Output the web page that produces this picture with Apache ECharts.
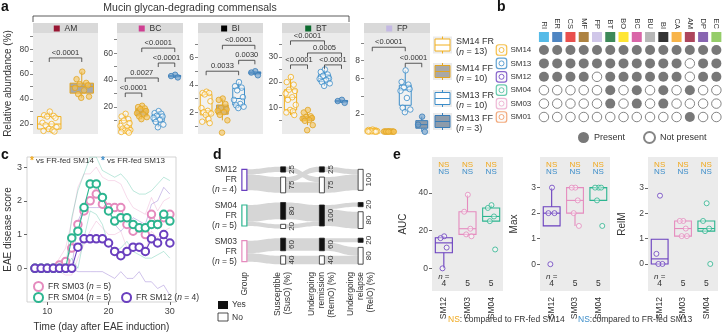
<!DOCTYPE html>
<html>
<head>
<meta charset="utf-8">
<script src="https://cdn.jsdelivr.net/npm/echarts@6.0.0/dist/echarts.min.js"></script>
<style>
  html, body { margin: 0; padding: 0; background: #fff; }
  #main { width: 723px; height: 333px; }
</style>
</head>
<body>
<div id="main"></div>
<script>
const FONT = '"Liberation Sans", Arial, sans-serif';
const TXT = '#333';

// ---------- a: relative abundance (%) ----------
const taxaA = ['AM', 'BC', 'BI', 'BT', 'FP'];
const groupsA = ['SM14 FR', 'SM14 FF', 'SM13 FR', 'SM13 FF'];
const groupsAN = [13, 10, 10, 3];

const AM_sm14FR = [30, 27, 26.5, 26, 25, 21, 20, 19, 17.5, 16, 15, 14.5, 14];
const AM_sm14FF = [62, 56, 53, 52, 51, 49, 47, 44, 42, 41];
const BC_sm14FR = [15, 13, 11, 10, 8, 6, 5, 4, 3, 2.5, 2, 1.5, 1];
const BC_sm14FF = [21, 20, 19, 18.5, 17, 15.5, 14.5, 13, 12.5, 11];
const BC_sm13FR = [17, 15.5, 15, 13.5, 13, 12, 10.5, 9, 7, 5];
const BC_sm13FF = [44, 43, 42];
const BI_sm14FR = [3.5, 3.4, 3.4, 3.3, 2.8, 2.3, 2.1, 2.0, 1.9, 1.8, 1.5, 1.3, 1.2];
const BI_sm14FF = [3.0, 2.9, 2.6, 2.3, 2.2, 2.1, 2.0, 1.8, 1.4, 0.5];
const BI_sm13FR = [4.2, 3.9, 3.8, 3.6, 3.1, 2.9, 2.6, 2.5, 2.4, 2.3];
const BI_sm13FF = [5.0, 4.9, 4.7];
const BT_sm14FR = [22, 20, 19, 17, 16.5, 15.5, 14, 13, 11, 9, 8.5, 8, 7];
const BT_sm14FF = [9, 8, 6.5, 6.2, 5.8, 5.6, 5, 4.7, 3, 1];
const BT_sm13FR = [25, 24, 23, 22.5, 21.5, 21.3, 20.8, 20, 19.5, 18.5];
const BT_sm13FF = [13, 12.5, 11.8];
const FP_sm14FR = [0.25, 0.2, 0.15, 0.15, 0.1, 0.1, 0.1, 0.05, 0.05, 0.05, 0.02, 0.02, 0.01];
const FP_sm14FF = [0.05, 0.04, 0.03, 0.03, 0.02, 0.02, 0.02, 0.01, 0.01, 0.01];
const FP_sm13FR = [6.9, 5.6, 5.3, 5.0, 4.8, 4.6, 3.8, 2.7, 2.5, 2.2];
const FP_sm13FF = [1.7, 0.8, 0.0];

// y ticks / labels per taxon
const ticksA = [[20, 30, 40, 50, 60, 70, 80, 90], [10, 20, 30, 40, 50, 60, 70], [1, 2, 3, 4, 5, 6, 7], [5, 10, 15, 20, 25, 30, 35], [2, 4, 6, 8, 10]];
const labelsA = [[20, 40, 60, 80], [20, 40, 60], [2, 4, 6], [10, 20, 30], [2, 6, 8]];

// p-value brackets: [from group, to group, height, text]
const bracketsAM = [[0, 1, 73, '<0.0001']];
const bracketsBC = [[0, 1, 30.4, '<0.0001'], [0, 2, 41.6, '0.0027'], [2, 3, 52.7, '<0.0001'], [1, 3, 63.8, '<0.0001']];
const bracketsBI = [[0, 2, 5.0, '0.0033'], [2, 3, 5.8, '0.0030'], [1, 3, 6.9, '<0.0001']];
const bracketsBT = [[0, 1, 26.8, '<0.0001'], [2, 3, 26.8, '<0.0001'], [1, 3, 31.5, '0.0005'], [0, 2, 36.3, '<0.0001']];
const bracketsFP = [[0, 2, 9.5, '<0.0001'], [2, 3, 7.7, '<0.0001']];

// ---------- b: community composition ----------
const taxaB = ['RI', 'ER', 'CS', 'MF', 'FP', 'BT', 'BO', 'BC', 'BU', 'BI', 'CA', 'AM', 'DP', 'EC'];
const taxaBColor = ['#2AAAE2', '#2266B3', '#E42320', '#9A6412', '#C4B9E3', '#0C6B2F', '#FFE000', '#CF3F92', '#A5A5A5', '#000000', '#F6A11B', '#991733', '#6A3E9E', '#7BC043'];
const communities = ['SM14', 'SM13', 'SM12', 'SM04', 'SM03', 'SM01'];
const communityColor = ['#F2B01E', '#3C8DC9', '#6A3FBF', '#43BE9A', '#EBA6CC', '#F0955C'];
const presence = [
  [1, 1, 1, 1, 1, 1, 1, 1, 1, 1, 1, 1, 1, 1],
  [1, 1, 1, 1, 1, 1, 1, 1, 1, 1, 1, 0, 1, 1],
  [1, 1, 1, 1, 0, 1, 1, 1, 1, 1, 1, 0, 1, 1],
  [0, 0, 0, 0, 0, 1, 0, 1, 0, 1, 0, 1, 0, 0],
  [0, 0, 0, 0, 0, 1, 0, 1, 0, 1, 0, 0, 0, 0],
  [0, 0, 0, 0, 0, 0, 0, 0, 0, 0, 0, 1, 0, 0]
];

// ---------- c: EAE disease score ----------
const days = [8, 9, 10, 11, 12, 13, 14, 15, 16, 17, 18, 19, 20, 21, 22, 23, 24, 25, 26, 27, 28, 29, 30];
const sm03Mean = [0, 0, 0, 0, 0.1, 0.2, 0.6, 1.3, 1.7, 2.0, 2.2, 1.9, 1.8, 1.8, 1.8, 1.3, 1.1, 1.2, 1.0, 1.6, 1.3, 1.5, 1.6];
const sm03Hi = [0, 0, 0, 0, 0.3, 0.6, 1.4, 2.4, 2.8, 2.8, 3.0, 2.7, 2.6, 2.6, 2.5, 2.1, 1.8, 1.7, 1.6, 2.1, 1.7, 2.0, 2.1];
const sm03Lo = [0, 0, 0, 0, -0.1, -0.2, -0.2, 0.3, 0.7, 1.1, 1.4, 1.2, 1.0, 1.0, 1.1, 0.6, 0.5, 0.7, 0.5, 1.1, 0.9, 1.1, 1.2];
const sm04Mean = [0, 0, 0, 0, 0, 0, 0.9, 1.1, 1.8, 2.5, 2.5, 2.1, 1.7, 1.4, 1.5, 1.5, 1.3, 1.2, 1.2, 1.3, 1.3, 1.6, 1.4];
const sm04Hi = [0, 0, 0, 0, 0, 0, 1.5, 2.3, 2.8, 3.3, 3.3, 2.9, 2.8, 2.7, 2.8, 2.6, 2.3, 2.2, 2.2, 2.3, 2.5, 2.7, 2.6];
const sm04Lo = [0, 0, 0, 0, 0, 0, 0.3, 0, 0.9, 1.7, 1.6, 1.3, 0.7, 0.5, 0.6, 0.8, 0.5, 0.4, 0.3, 0.3, 0.4, 0.5, 0.3];
const sm12Mean = [0, 0, 0, 0, 0, 0, 0, 0.625, 0.875, 0.875, 0.875, 0.875, 0.75, 0.5, 0.375, 0.5, 0.625, 0.625, 0.5, 0.875, 0.75, 1.0, 0.75];
const sm12Hi = [0, 0, 0, 0, 0, 0, 0, 1.4, 1.8, 1.8, 1.8, 1.8, 1.7, 1.3, 1.1, 1.3, 1.5, 1.4, 1.3, 1.9, 2.0, 2.4, 2.2];
const sm12Lo = [0, 0, 0, 0, 0, 0, 0, -0.1, -0.1, -0.1, -0.1, -0.1, -0.2, -0.3, -0.1, -0.3, -0.3, -0.1, -0.4, -0.4, -0.6, -0.5, -0.8];
// days marked significant
const starVs13SM03 = [14, 27, 29, 30];
const starVs13SM04 = [14, 16, 17, 28, 29];
const starVs14SM12 = [14];

// ---------- d: disease course (%) ----------
const groupsD = ['SM12', 'SM04', 'SM03'];
const nD = [4, 5, 5];
const susYes = [25, 80, 60];
const remYes = [25, 100, 60];
const relYes = [0, 20, 20];
// [from yes?, to yes?, %]
const flowsSusRem = [[[1, 0, 25], [0, 1, 25], [0, 0, 50]], [[1, 1, 80], [0, 1, 20]], [[1, 1, 60], [0, 0, 40]]];
const flowsRemRel = [[[1, 0, 25], [0, 0, 75]], [[1, 1, 20], [1, 0, 80]], [[1, 1, 20], [1, 0, 40], [0, 0, 40]]];
const stagesD = ['Group', 'Susceptible\n(SusO) (%)', 'Undergoing\nremission\n(RemO) (%)', 'Undergoing\nrelapse\n(RelO) (%)'];

// ---------- e: AUC / Max / RelM ----------
const groupsE = ['SM12', 'SM03', 'SM04'];
const nE = [4, 5, 5];
const aucSM12 = [17, 16, 11, 0];
const aucSM03 = [39, 30, 21, 18, 17];
const aucSM04 = [33.5, 32, 27.5, 25, 10];
const maxSM12 = [3, 2, 2, 0];
const maxSM03 = [3, 3, 2.5, 2, 1.5];
const maxSM04 = [3, 3, 3, 2.5, 1.5];
const relmSM12 = [2.7, 0.4, 0, 0];
const relmSM03 = [1.7, 1.7, 1.4, 1.1, 1.1];
const relmSM04 = [2.4, 1.7, 1.4, 1.3, 0];
const metricsE = ['AUC', 'Max', 'RelM'];
const labelsE = [[0, 20, 40], [0, 1, 2, 3], [0, 1, 2, 3]];

// ================= build =================
const colA = ['#F2B01E', '#E1A523', '#3C8DC9', '#3A7DB8'];
const boxFillA = ['rgba(255,255,255,0.35)', '#A8A8A8', 'rgba(255,255,255,0.35)', '#8D9BAA'];
const ptFillA = ['rgba(255,255,255,0.6)', 'rgba(246,196,90,0.75)', 'rgba(255,255,255,0.6)', 'rgba(110,160,205,0.8)'];
const colC = ['#E58BBE', '#2DB590', '#6A3FBF'];
const colE = ['#6A3FBF', '#E58BBE', '#2DB590'];
const ORANGE = '#F0A81C', BLUE = '#3C8DC9';
const JIT = [0.02, -0.2, 0.17, -0.08, 0.24, -0.26, 0.09, -0.14, 0.28, -0.02, 0.13, -0.22, 0.2];
const NO_LINE = { show: false, onZero: false };

const chart = echarts.init(document.getElementById('main'));
const grid = [], xAxis = [], yAxis = [], series = [], elements = [];

function boxStats(vals) {
  const s = vals.slice().sort((a, b) => a - b);
  const q = p => {
    const h = (s.length - 1) * p, lo = Math.floor(h);
    const nx = s[Math.min(lo + 1, s.length - 1)];
    return s[lo] + (h - lo) * (nx - s[lo]);
  };
  const q1 = q(0.25), md = q(0.5), q3 = q(0.75), iqr = q3 - q1;
  let lo = s.find(v => v >= q1 - 1.5 * iqr);
  let hi = s.slice().reverse().find(v => v <= q3 + 1.5 * iqr);
  return [Math.min(lo, q1), q1, md, q3, Math.max(hi, q3)];
}

function drawBox(api, stroke, fill, wFrac, lw) {
  const x = api.value(0);
  const c = d => api.coord([x, api.value(d)]);
  const lo = c(1), q1 = c(2), md = c(3), q3 = c(4), hi = c(5);
  const w = api.size([wFrac, 0])[0];
  const ls = { stroke: stroke, lineWidth: lw };
  return {
    type: 'group', children: [
      { type: 'line', shape: { x1: lo[0], y1: lo[1], x2: q1[0], y2: q1[1] }, style: ls },
      { type: 'line', shape: { x1: q3[0], y1: q3[1], x2: hi[0], y2: hi[1] }, style: ls },
      { type: 'rect', shape: { x: q3[0] - w / 2, y: q3[1], width: w, height: Math.max(q1[1] - q3[1], 1) }, style: { fill: fill, stroke: stroke, lineWidth: lw } },
      { type: 'line', shape: { x1: md[0] - w / 2, y1: md[1], x2: md[0] + w / 2, y2: md[1] }, style: ls }
    ]
  };
}

function txt(x, y, text, o) {
  elements.push(Object.assign({ type: 'text', x: x, y: y, silent: true,
    style: Object.assign({ text: text, fill: TXT, fontSize: 9, fontFamily: FONT }, o || {}) }));
}

// panel letters
[['a', 1, 0], ['b', 497, 0], ['c', 1, 148], ['d', 213, 148], ['e', 393, 148]].forEach(p =>
  txt(p[1], p[2], p[0], { fontSize: 14, fontWeight: 'bold', fill: '#111' }));

// ---------- panel a ----------
const dataA = [[AM_sm14FR, AM_sm14FF], [BC_sm14FR, BC_sm14FF, BC_sm13FR, BC_sm13FF],
  [BI_sm14FR, BI_sm14FF, BI_sm13FR, BI_sm13FF], [BT_sm14FR, BT_sm14FF, BT_sm13FR, BT_sm13FF],
  [FP_sm14FR, FP_sm14FF, FP_sm13FR, FP_sm13FF]];
const bracketsA = [bracketsAM, bracketsBC, bracketsBI, bracketsBT, bracketsFP];
const rangeA = [[12, 93], [0, 75], [0.4, 7.8], [-0.5, 39.4], [-0.25, 11.1]];
const gridA = [[33, 65], [117, 66], [198, 65], [282, 68], [364, 66]];

txt(190, 8, 'Mucin glycan-degrading commensals', { fontSize: 10.5, align: 'center', verticalAlign: 'middle' });
elements.push({ type: 'polyline', silent: true, shape: { points: [[33, 22], [33, 16], [349, 16], [349, 22]] }, style: { stroke: '#333', lineWidth: 0.8, fill: null } });

taxaA.forEach((t, k) => {
  const gi = grid.length;
  const L = gridA[k][0], W = gridA[k][1];
  grid.push({ left: L, top: 33, width: W, height: 101, show: true, backgroundColor: '#ebebeb', borderWidth: 0 });
  const nSlot = dataA[k].length;
  xAxis.push({ gridIndex: gi, type: 'value', min: -0.5, max: nSlot - 0.5, show: false, axisLine: NO_LINE });
  yAxis.push({
    gridIndex: gi, type: 'value', min: rangeA[k][0], max: rangeA[k][1],
    splitLine: { show: false }, axisLine: NO_LINE,
    axisTick: { show: true, length: 3, customValues: ticksA[k], lineStyle: { color: '#666', width: 0.8 } },
    axisLabel: { customValues: labelsA[k], fontSize: 8.5, color: '#444', margin: 4, fontFamily: FONT },
    name: k === 0 ? 'Relative abundance (%)' : '', nameLocation: 'middle', nameGap: 20,
    nameTextStyle: { fontSize: 10, color: TXT, fontFamily: FONT }
  });
  // strip header
  elements.push({ type: 'rect', silent: true, shape: { x: L, y: 23, width: W, height: 10 }, style: { fill: '#d9d9d9' } });
  txt(L + W / 2, 28.5, '{s|}  ' + t, { fontSize: 8.5, align: 'center', verticalAlign: 'middle',
    rich: { s: { backgroundColor: taxaBColor[taxaB.indexOf(t)], width: 6, height: 6 } } });

  const slotGroup = nSlot === 2 ? [0, 1] : [0, 1, 2, 3];
  series.push({
    type: 'custom', xAxisIndex: gi, yAxisIndex: gi, z: 2, silent: true, clip: false,
    data: dataA[k].map((vals, s) => [s].concat(boxStats(vals))),
    encode: { x: 0, y: [1, 5] },
    renderItem: (params, api) => {
      const g = slotGroup[params.dataIndex];
      return drawBox(api, colA[g], boxFillA[g], 0.72, 1);
    }
  });
  dataA[k].forEach((vals, s) => {
    const g = slotGroup[s];
    series.push({
      type: 'scatter', xAxisIndex: gi, yAxisIndex: gi, z: 3, silent: true, symbolSize: 5.5,
      itemStyle: { color: ptFillA[g], borderColor: colA[g], borderWidth: 1 },
      data: vals.map((v, i) => [s + JIT[i % JIT.length] * (nSlot === 2 ? 0.8 : 1.1), v])
    });
  });
  const br = bracketsA[k];
  series.push({
    type: 'custom', xAxisIndex: gi, yAxisIndex: gi, z: 4, silent: true, clip: false,
    data: br.map(b => [b[0], b[1], b[2]]),
    encode: { x: [0, 1], y: 2 },
    renderItem: (params, api) => {
      const a = api.coord([api.value(0), api.value(2)]), b = api.coord([api.value(1), api.value(2)]);
      return {
        type: 'group', children: [
          { type: 'polyline', shape: { points: [[a[0], a[1] + 4], [a[0], a[1]], [b[0], b[1]], [b[0], b[1] + 4]] }, style: { stroke: '#333', lineWidth: 0.8, fill: null } },
          { type: 'text', x: (a[0] + b[0]) / 2, y: a[1] - 1, style: { text: br[params.dataIndex][3], fill: TXT, fontSize: 7.5, fontFamily: FONT, align: 'center', verticalAlign: 'bottom' } }
        ]
      };
    }
  });
});

// legend a
const legAY = [45, 71.5, 98.5, 121.5];
groupsA.forEach((g, i) => {
  const cy = legAY[i];
  elements.push({ type: 'rect', silent: true, shape: { x: 433, y: cy - 8.5, width: 19, height: 17 }, style: { fill: '#ebebeb' } });
  elements.push({ type: 'line', silent: true, shape: { x1: 442.5, y1: cy - 8.5, x2: 442.5, y2: cy + 8.5 }, style: { stroke: colA[i], lineWidth: 1 } });
  elements.push({ type: 'rect', silent: true, shape: { x: 435, y: cy - 6, width: 15, height: 12 }, style: { fill: i % 2 ? boxFillA[i] : '#fff', stroke: colA[i], lineWidth: 1 } });
  elements.push({ type: 'line', silent: true, shape: { x1: 435, y1: cy, x2: 450, y2: cy }, style: { stroke: colA[i], lineWidth: 1 } });
  txt(456, cy - 3, g, { fontSize: 9, verticalAlign: 'middle' });
  txt(456, cy + 7, '({i|n} = ' + groupsAN[i] + ')', { fontSize: 9, verticalAlign: 'middle',
    rich: { i: { fontStyle: 'italic', fontSize: 9, fontFamily: FONT, fill: TXT } } });
});

// ---------- panel b ----------
const bLeft = 537.3, bW = 189;
let gi = grid.length;
grid.push({ left: bLeft, top: 32, width: bW, height: 10 });
xAxis.push({ gridIndex: gi, type: 'category', data: taxaB, position: 'top', axisLine: { show: false }, axisTick: { show: false },
  axisLabel: { rotate: 90, fontSize: 7.5, margin: 3, color: TXT, fontFamily: FONT, interval: 0 } });
yAxis.push({ gridIndex: gi, type: 'category', data: ['key'], show: false });
series.push({ type: 'scatter', xAxisIndex: gi, yAxisIndex: gi, silent: true, symbol: 'rect', symbolSize: [10, 10],
  data: taxaB.map((t, i) => ({ value: [i, 0], itemStyle: { color: taxaBColor[i] } })) });

gi = grid.length;
grid.push({ left: bLeft, top: 43.3, width: bW, height: 80.4 });
xAxis.push({ gridIndex: gi, type: 'category', data: taxaB, show: false });
yAxis.push({ gridIndex: gi, type: 'category', data: communities, inverse: true, axisLine: { show: false }, axisTick: { show: false },
  axisLabel: { fontSize: 8, margin: 6, color: TXT, fontFamily: FONT } });
const presentPts = [], absentPts = [];
presence.forEach((row, j) => row.forEach((p, i) => (p ? presentPts : absentPts).push([i, j])));
series.push({ name: 'Present', type: 'scatter', xAxisIndex: gi, yAxisIndex: gi, silent: true, symbolSize: 10,
  itemStyle: { color: '#565656' }, data: presentPts });
series.push({ name: 'Not present', type: 'scatter', xAxisIndex: gi, yAxisIndex: gi, silent: true, symbolSize: 9.5,
  itemStyle: { color: '#fff', borderColor: '#666', borderWidth: 1 }, data: absentPts });

gi = grid.length;
grid.push({ left: 496, top: 43.3, width: 11, height: 80.4 });
xAxis.push({ gridIndex: gi, type: 'category', data: ['icon'], show: false });
yAxis.push({ gridIndex: gi, type: 'category', data: communities, inverse: true, show: false });
series.push({ type: 'scatter', xAxisIndex: gi, yAxisIndex: gi, silent: true, symbol: 'roundRect', symbolSize: 10.5,
  data: communities.map((c, j) => ({ value: [0, j], itemStyle: { color: '#fafafa', borderColor: communityColor[j], borderWidth: 1.2 } })) });
series.push({ type: 'scatter', xAxisIndex: gi, yAxisIndex: gi, silent: true, symbolSize: 5,
  data: communities.map((c, j) => ({ value: [0, j], itemStyle: { color: '#fff', borderColor: communityColor[j], borderWidth: 1 } })) });

// ---------- panel c ----------
gi = grid.length;
const gC = gi;
grid.push({ left: 27, top: 157, width: 149, height: 145, show: true, borderColor: '#c8c8c8', borderWidth: 0.8 });
xAxis.push({ gridIndex: gi, type: 'value', min: 6.7, max: 31, splitLine: { show: false }, axisLine: NO_LINE,
  axisTick: { show: true, length: 3, customValues: [10, 20, 30], lineStyle: { color: '#666' } },
  axisLabel: { customValues: [10, 20, 30], fontSize: 9, color: '#444', margin: 5, fontFamily: FONT },
  name: 'Time (day after EAE induction)', nameLocation: 'middle', nameGap: 20, nameTextStyle: { fontSize: 10, color: TXT, fontFamily: FONT } });
yAxis.push({ gridIndex: gi, type: 'value', min: -1, max: 3.3, splitLine: { show: false }, axisLine: NO_LINE,
  axisTick: { show: true, length: 3, customValues: [0, 1, 2, 3], lineStyle: { color: '#666' } },
  axisLabel: { customValues: [0, 1, 2, 3], fontSize: 9, color: '#444', margin: 5, fontFamily: FONT },
  name: 'EAE disease score', nameLocation: 'middle', nameGap: 14, nameTextStyle: { fontSize: 10, color: TXT, fontFamily: FONT } });

const pair = arr => days.map((d, i) => [d, arr[i]]);
const groupsC = [['FR SM03', sm03Mean, sm03Hi, sm03Lo], ['FR SM04', sm04Mean, sm04Hi, sm04Lo], ['FR SM12', sm12Mean, sm12Hi, sm12Lo]];
groupsC.forEach((g, k) => {
  [g[2], g[3]].forEach((arr, h) => series.push({
    name: g[0] + (h ? ' lo' : ' hi'), type: 'line', xAxisIndex: gC, yAxisIndex: gC, silent: true, symbol: 'none', z: 1,
    lineStyle: { color: colC[k], width: 0.7, opacity: 0.45 }, data: pair(arr)
  }));
});
[1, 0, 2].forEach(k => {
  const g = groupsC[k];
  series.push({
    name: g[0], type: 'line', xAxisIndex: gC, yAxisIndex: gC, silent: true, z: 3 + k,
    symbol: 'emptyCircle', symbolSize: 7.5,
    lineStyle: { color: colC[k], width: 1.1 },
    itemStyle: { color: colC[k], borderWidth: 1.1 },
    data: pair(g[1])
  });
});
const starSeries = (list, arr, color) => ({
  type: 'scatter', xAxisIndex: gC, yAxisIndex: gC, silent: true, z: 10, symbolSize: 1, itemStyle: { opacity: 0 },
  label: { show: true, formatter: '*', position: 'inside', color: color, fontSize: 10, fontWeight: 'bold', offset: [0, 2.5] },
  data: list.map(d => [d, arr[days.indexOf(d)]])
});
series.push(starSeries(starVs13SM03, sm03Mean, BLUE));
series.push(starSeries(starVs13SM04, sm04Mean, BLUE));
series.push(starSeries(starVs14SM12, sm12Mean, ORANGE));
txt(30, 161, '{o|*} vs FR-fed SM14', { fontSize: 8, verticalAlign: 'middle', rich: { o: { fill: ORANGE, fontSize: 10, fontWeight: 'bold' } } });
txt(101, 161, '{b|*} vs FR-fed SM13', { fontSize: 8, verticalAlign: 'middle', rich: { b: { fill: BLUE, fontSize: 10, fontWeight: 'bold' } } });

// ---------- panel d ----------
gi = grid.length;
const gD = gi;
grid.push({ left: 225, top: 162, width: 155, height: 107 });
xAxis.push({ gridIndex: gi, type: 'category', data: stagesD, axisLine: { show: false }, axisTick: { show: false },
  axisLabel: { rotate: 90, interval: 0, fontSize: 8.5, lineHeight: 10, margin: 3, color: TXT, fontFamily: FONT } });
yAxis.push({ gridIndex: gi, type: 'value', min: 0, max: 510, inverse: true, show: false, axisLine: NO_LINE });
const colD = ['#6A3FBF', '#2DB590', '#E58BBE'];
const NW = 5, GAP = 24, BAND = 170;
const rank = k => (k === 'no' ? 1 : 0);
series.push({
  type: 'custom', xAxisIndex: gD, yAxisIndex: gD, silent: true, clip: false,
  data: groupsD.map((g, i) => [0, i * BAND + BAND / 2]),
  renderItem: (params, api) => {
    const i = params.dataIndex;
    const cv = i * BAND + BAND / 2;
    const X = s => api.coord([s, cv])[0];
    const Y = v => api.coord([0, v])[1];
    const split = yes => {
      if (yes <= 0) return { no: [cv - 50, cv + 50] };
      if (yes >= 100) return { yes: [cv - 50, cv + 50] };
      const top = cv - (100 + GAP) / 2;
      return { yes: [top, top + yes], no: [top + yes + GAP, top + 100 + GAP] };
    };
    const stages = [{ grp: [cv - 50, cv + 50] }, split(susYes[i]), split(remYes[i]), split(relYes[i])];
    const yn = b => (b ? 'yes' : 'no');
    const flows = [
      [['grp', 'yes', susYes[i]], ['grp', 'no', 100 - susYes[i]]],
      flowsSusRem[i].map(f => [yn(f[0]), yn(f[1]), f[2]]),
      flowsRemRel[i].map(f => [yn(f[0]), yn(f[1]), f[2]])
    ];
    const kids = [];
    flows.forEach((list, s) => {
      const so = {}, ti = {}, outPos = new Map(), inPos = new Map();
      list.slice().sort((a, b) => rank(a[0]) - rank(b[0]) || rank(a[1]) - rank(b[1]))
        .forEach(f => { so[f[0]] = so[f[0]] || 0; outPos.set(f, so[f[0]]); so[f[0]] += f[2]; });
      list.slice().sort((a, b) => rank(a[1]) - rank(b[1]) || rank(a[0]) - rank(b[0]))
        .forEach(f => { ti[f[1]] = ti[f[1]] || 0; inPos.set(f, ti[f[1]]); ti[f[1]] += f[2]; });
      list.forEach(f => {
        if (f[2] <= 0) return;
        const src = stages[s][f[0]], dst = stages[s + 1][f[1]];
        const sy0 = Y(src[0] + outPos.get(f)), sy1 = Y(src[0] + outPos.get(f) + f[2]);
        const ty0 = Y(dst[0] + inPos.get(f)), ty1 = Y(dst[0] + inPos.get(f) + f[2]);
        const sx = X(s) + NW / 2, tx = X(s + 1) - NW / 2, mx = (sx + tx) / 2;
        kids.push({ type: 'path', shape: { pathData: `M${sx} ${sy0}C${mx} ${sy0} ${mx} ${ty0} ${tx} ${ty0}L${tx} ${ty1}C${mx} ${ty1} ${mx} ${sy1} ${sx} ${sy1}Z` },
          style: { fill: '#d6d6d6' } });
      });
    });
    stages.forEach((st, s) => {
      Object.keys(st).forEach(k => {
        const r = st[k], x = X(s), y0 = Y(r[0]), y1 = Y(r[1]);
        kids.push({ type: 'rect', shape: { x: x - NW / 2, y: y0, width: NW, height: y1 - y0 },
          style: { fill: k === 'yes' ? '#111' : '#fff', stroke: k === 'grp' ? colD[i] : '#222', lineWidth: k === 'grp' ? 1.2 : 0.8 } });
        if (k !== 'grp') {
          kids.push({ type: 'text', x: x + NW / 2 + 6, y: (y0 + y1) / 2, rotation: Math.PI / 2,
            style: { text: String(Math.round(r[1] - r[0])), fill: TXT, fontSize: 8, fontFamily: FONT, align: 'center', verticalAlign: 'middle' } });
        }
      });
    });
    kids.push({ type: 'text', x: X(0) - NW / 2 - 5, y: Y(cv),
      style: { text: groupsD[i] + '\nFR\n({i|n} = ' + nD[i] + ')', fill: TXT, fontSize: 8.5, lineHeight: 10, fontFamily: FONT,
        align: 'right', verticalAlign: 'middle', rich: { i: { fontStyle: 'italic', fontSize: 8.5, fontFamily: FONT, fill: TXT } } } });
    return { type: 'group', children: kids };
  }
});
elements.push({ type: 'rect', silent: true, shape: { x: 218, y: 301, width: 10, height: 8 }, style: { fill: '#111' } });
elements.push({ type: 'rect', silent: true, shape: { x: 218, y: 313, width: 10, height: 8 }, style: { fill: '#fff', stroke: '#222', lineWidth: 0.8 } });
txt(232, 305, 'Yes', { fontSize: 8.5, verticalAlign: 'middle' });
txt(232, 317.5, 'No', { fontSize: 8.5, verticalAlign: 'middle' });

// ---------- panel e ----------
const dataE = [[aucSM12, aucSM03, aucSM04], [maxSM12, maxSM03, maxSM04], [relmSM12, relmSM03, relmSM04]];
const rangeE = [[-12, 59], [-1.05, 4.2], [-1.07, 4.23]];
const gridE = [[432, 71, 24], [540, 70, 21], [648, 70, 21]];
metricsE.forEach((m, k) => {
  const g = grid.length;
  grid.push({ left: gridE[k][0], top: 157, width: gridE[k][1], height: 134, show: true, backgroundColor: '#ebebeb', borderWidth: 0 });
  xAxis.push({ gridIndex: g, type: 'value', min: -0.5, max: 2.5, splitLine: { show: false }, axisLine: NO_LINE, axisTick: { show: false },
    axisLabel: { customValues: [0, 1, 2], formatter: v => groupsE[v], rotate: 90, fontSize: 8.5, margin: 6, color: TXT, fontFamily: FONT } });
  yAxis.push({ gridIndex: g, type: 'value', min: rangeE[k][0], max: rangeE[k][1], splitLine: { show: false }, axisLine: NO_LINE,
    axisTick: { show: true, length: 3, customValues: labelsE[k], lineStyle: { color: '#666' } },
    axisLabel: { customValues: labelsE[k], fontSize: 8.5, color: '#444', margin: 4, fontFamily: FONT },
    name: m, nameLocation: 'middle', nameGap: gridE[k][2], nameTextStyle: { fontSize: 10, color: TXT, fontFamily: FONT } });
  series.push({
    type: 'custom', xAxisIndex: g, yAxisIndex: g, z: 2, silent: true, clip: false,
    data: dataE[k].map((vals, s) => [s].concat(boxStats(vals))),
    encode: { x: 0, y: [1, 5] },
    renderItem: (params, api) => drawBox(api, colE[params.dataIndex], 'rgba(0,0,0,0)', 0.72, 1.1)
  });
  dataE[k].forEach((vals, s) => series.push({
    type: 'scatter', xAxisIndex: g, yAxisIndex: g, z: 3, silent: true, symbolSize: 5,
    itemStyle: { color: 'rgba(255,255,255,0.5)', borderColor: colE[s], borderWidth: 1 },
    data: vals.map((v, i) => [s + JIT[i % JIT.length] * 0.7, v])
  }));
  series.push({
    type: 'custom', xAxisIndex: g, yAxisIndex: g, z: 4, silent: true, clip: false,
    data: groupsE.map((n, s) => [s, 0]),
    renderItem: (params, api) => {
      const s = params.dataIndex, cs = params.coordSys;
      const x = api.coord([s, 0])[0];
      const base = { fontSize: 8, fontFamily: FONT, align: 'center', verticalAlign: 'middle' };
      const kids = [
        { type: 'text', x: x, y: cs.y + 8, style: Object.assign({ text: 'NS', fill: ORANGE }, base) },
        { type: 'text', x: x, y: cs.y + 15, style: Object.assign({ text: 'NS', fill: BLUE }, base) },
        { type: 'text', x: x, y: cs.y + cs.height - 7, style: Object.assign({ text: String(nE[s]), fill: TXT }, base, { fontSize: 8.5 }) }
      ];
      if (s === 0) kids.push({ type: 'text', x: x, y: cs.y + cs.height - 14,
        style: Object.assign({ text: '{i|n} =', fill: TXT, rich: { i: { fontStyle: 'italic', fontSize: 8, fontFamily: FONT, fill: TXT } } }, base) });
      return { type: 'group', children: kids };
    }
  });
});
txt(448, 320, '{o|NS}: compared to FR-fed SM14', { fontSize: 8.5, verticalAlign: 'middle', rich: { o: { fill: ORANGE, fontSize: 8.5, fontFamily: FONT } } });
txt(578, 320, '{b|NS}:compared to FR-fed SM13', { fontSize: 8.5, verticalAlign: 'middle', rich: { b: { fill: BLUE, fontSize: 8.5, fontFamily: FONT } } });

chart.setOption({
  animation: false,
  textStyle: { fontFamily: FONT },
  grid: grid,
  xAxis: xAxis,
  yAxis: yAxis,
  legend: [
    { data: ['Present', 'Not present'], left: 573, top: 126, itemWidth: 11, itemHeight: 11, itemGap: 18, icon: 'circle',
      textStyle: { fontSize: 9, color: TXT, fontFamily: FONT } },
    { data: ['FR SM03'], left: 28, top: 276, itemWidth: 9, itemHeight: 9, icon: 'emptyCircle',
      formatter: n => n + ' ({i|n} = 5)', textStyle: { fontSize: 8.5, color: TXT, fontFamily: FONT, rich: { i: { fontStyle: 'italic', fontSize: 8.5 } } } },
    { data: ['FR SM04', 'FR SM12'], left: 28, top: 287, itemWidth: 9, itemHeight: 9, itemGap: 10, icon: 'emptyCircle',
      formatter: n => n + ' ({i|n} = ' + (n === 'FR SM12' ? 4 : 5) + ')', textStyle: { fontSize: 8.5, color: TXT, fontFamily: FONT, rich: { i: { fontStyle: 'italic', fontSize: 8.5 } } } }
  ],
  series: series,
  graphic: { elements: elements }
});
</script>
</body>
</html>
